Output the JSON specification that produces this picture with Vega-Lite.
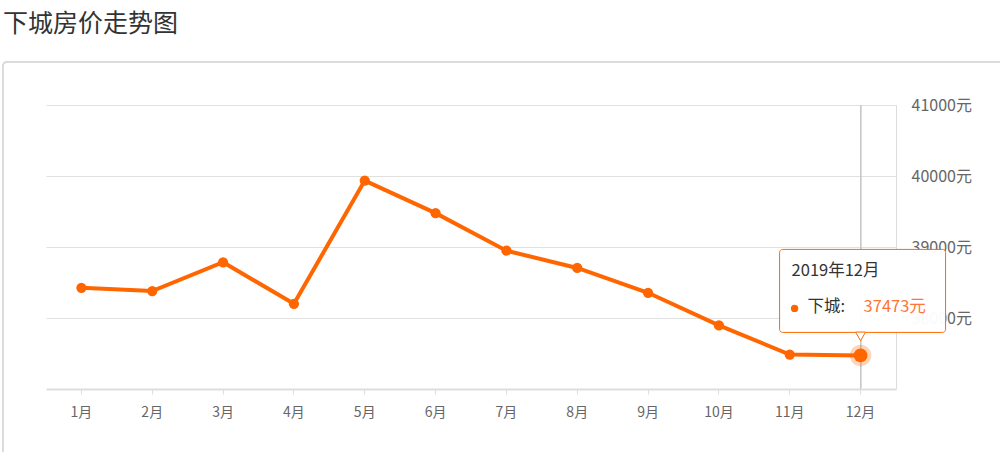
{
  "$schema": "https://vega.github.io/schema/vega-lite/v6.json",
  "width": 850,
  "height": 284,
  "autosize": {"type": "none"},
  "padding": {"left": 46, "top": 105, "right": 104, "bottom": 63},
  "background": "#ffffff",
  "title": {
    "text": "下城房价走势图",
    "anchor": "start",
    "frame": "group",
    "font": "Noto Sans CJK SC",
    "fontSize": 25,
    "fontWeight": "normal",
    "color": "#333333",
    "baseline": "alphabetic",
    "dx": -43,
    "offset": 4
  },
  "config": {
    "view": {"stroke": null},
    "font": "Noto Sans CJK SC"
  },
  "data": {
    "values": [
      {"month": "1月", "period": "2019年1月", "district": "下城", "price": 38425},
      {"month": "2月", "period": "2019年2月", "district": "下城", "price": 38379},
      {"month": "3月", "period": "2019年3月", "district": "下城", "price": 38785},
      {"month": "4月", "period": "2019年4月", "district": "下城", "price": 38200},
      {"month": "5月", "period": "2019年5月", "district": "下城", "price": 39935},
      {"month": "6月", "period": "2019年6月", "district": "下城", "price": 39477},
      {"month": "7月", "period": "2019年7月", "district": "下城", "price": 38948},
      {"month": "8月", "period": "2019年8月", "district": "下城", "price": 38705},
      {"month": "9月", "period": "2019年9月", "district": "下城", "price": 38355},
      {"month": "10月", "period": "2019年10月", "district": "下城", "price": 37896},
      {"month": "11月", "period": "2019年11月", "district": "下城", "price": 37485},
      {"month": "12月", "period": "2019年12月", "district": "下城", "price": 37473}
    ]
  },
  "layer": [
    {
      "mark": {"type": "rect", "fill": "transparent", "stroke": "#dcdcdc", "strokeWidth": 1.5, "cornerRadius": 4, "xOffset": -43, "yOffset": -43, "x2Offset": 150, "y2Offset": 150},
      "encoding": {
        "x": {
          "datum": "1月", "type": "ordinal", "bandPosition": 0,
          "scale": {"type": "band", "paddingInner": 0, "paddingOuter": 0, "domain": ["1月","2月","3月","4月","5月","6月","7月","8月","9月","10月","11月","12月"]},
          "axis": {"orient": "bottom", "title": null, "labelAngle": 0, "domainColor": "#dddddd", "domainWidth": 2, "ticks": true, "tickColor": "#dddddd", "tickSize": 5, "labelPadding": 11, "labelFontSize": 14, "labelColor": "#666666", "labelFont": "Noto Sans CJK SC", "grid": false}
        },
        "x2": {"datum": "12月", "bandPosition": 1},
        "y": {
          "datum": 41000, "type": "quantitative",
          "scale": {"domain": [37000, 41000], "nice": false, "zero": false},
          "axis": {"orient": "right", "title": null, "values": [38000, 39000, 40000, 41000], "format": "d", "labelExpr": "datum.label + '元'", "grid": true, "gridColor": "#e0e0e0", "gridWidth": 1, "domain": true, "domainColor": "#dddddd", "ticks": false, "labelPadding": 15, "labelFontSize": 16, "labelColor": "#666666", "labelFont": "Noto Sans CJK SC"}
        },
        "y2": {"datum": 37000}
      }
    },
    {
      "mark": {"type": "rule", "color": "#c8c8c8", "strokeWidth": 1},
      "encoding": {
        "x": {"datum": "12月", "type": "ordinal"},
        "y": {"datum": 41000, "type": "quantitative"},
        "y2": {"datum": 37000}
      }
    },
    {
      "mark": {"type": "line", "color": "#ff6600", "strokeWidth": 4},
      "encoding": {
        "x": {"field": "month", "type": "ordinal"},
        "y": {"field": "price", "type": "quantitative"}
      }
    },
    {
      "mark": {"type": "circle", "color": "#ff6600", "size": 105, "opacity": 1},
      "encoding": {
        "x": {"field": "month", "type": "ordinal"},
        "y": {"field": "price", "type": "quantitative"}
      }
    },
    {
      "transform": [{"filter": "datum.month === '12月'"}],
      "layer": [
        {
          "mark": {"type": "circle", "color": "#ff6600", "size": 460, "opacity": 0.28},
          "encoding": {"x": {"field": "month", "type": "ordinal"}, "y": {"field": "price", "type": "quantitative"}}
        },
        {
          "mark": {"type": "circle", "color": "#ff6600", "size": 190, "opacity": 1},
          "encoding": {"x": {"field": "month", "type": "ordinal"}, "y": {"field": "price", "type": "quantitative"}}
        },
        {
          "mark": {"type": "rect", "fill": "#ffffff", "fillOpacity": 0.96, "stroke": "#ff6a00", "strokeWidth": 1, "cornerRadius": 3, "xOffset": -81, "x2Offset": 85, "yOffset": -106, "y2Offset": -23},
          "encoding": {
            "x": {"field": "month", "type": "ordinal", "bandPosition": 0.5},
            "x2": {"field": "month", "bandPosition": 0.5},
            "y": {"field": "price", "type": "quantitative"},
            "y2": {"field": "price"}
          }
        },
        {
          "mark": {"type": "point", "shape": "triangle-down", "filled": true, "fill": "#ffffff", "stroke": "#ff6a00", "strokeWidth": 1, "size": 100, "yOffset": -19, "opacity": 1},
          "encoding": {"x": {"field": "month", "type": "ordinal"}, "y": {"field": "price", "type": "quantitative"}}
        },
        {
          "mark": {"type": "text", "align": "left", "baseline": "middle", "dx": -69, "dy": -84, "fontSize": 16.5, "color": "#333333", "font": "Noto Sans CJK SC"},
          "encoding": {"x": {"field": "month", "type": "ordinal"}, "y": {"field": "price", "type": "quantitative"}, "text": {"field": "period"}}
        },
        {
          "mark": {"type": "circle", "color": "#ff6600", "size": 55, "opacity": 1, "xOffset": -66, "yOffset": -47},
          "encoding": {"x": {"field": "month", "type": "ordinal"}, "y": {"field": "price", "type": "quantitative"}}
        },
        {
          "mark": {"type": "text", "align": "left", "baseline": "middle", "dx": -53, "dy": -48, "fontSize": 16.5, "color": "#333333", "font": "Noto Sans CJK SC", "text": {"expr": "datum.district + ':'"}},
          "encoding": {"x": {"field": "month", "type": "ordinal"}, "y": {"field": "price", "type": "quantitative"}}
        },
        {
          "mark": {"type": "text", "align": "left", "baseline": "middle", "dx": 3, "dy": -48, "fontSize": 16.5, "color": "#ff7437", "font": "Noto Sans CJK SC", "text": {"expr": "datum.price + '元'"}},
          "encoding": {"x": {"field": "month", "type": "ordinal"}, "y": {"field": "price", "type": "quantitative"}}
        }
      ]
    }
  ]
}
